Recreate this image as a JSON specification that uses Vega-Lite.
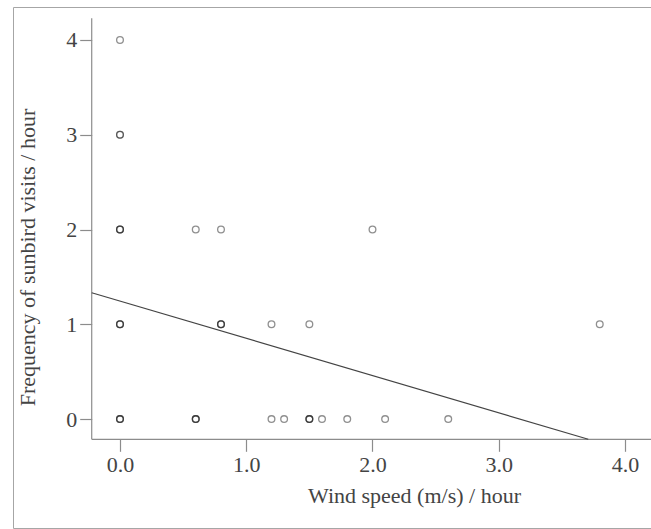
{
  "$schema": "https://vega.github.io/schema/vega-lite/v6.json",
  "width": 638,
  "height": 521,
  "autosize": {"type": "none"},
  "padding": {"left": 13, "top": 7, "right": 0, "bottom": 1},
  "background": "white",
  "config": {
    "view": {"stroke": "#a6a6a6", "strokeWidth": 1},
    "font": "Liberation Serif"
  },
  "layer": [
    {
      "data": {"values": [
        {"x": -0.224, "x2": -0.224, "y": -0.213, "y2": 4.23},
        {"x": -0.224, "x2": 4.21, "y": -0.213, "y2": -0.213}
      ]},
      "mark": {"type": "rule", "color": "#8c8c8c", "strokeWidth": 1.2},
      "encoding": {
        "x": {"field": "x", "type": "quantitative"},
        "x2": {"field": "x2"},
        "y": {"field": "y", "type": "quantitative"},
        "y2": {"field": "y2"}
      }
    },
    {
      "data": {"values": [
        {"x": -0.224, "y": 1.333},
        {"x": 3.709, "y": -0.213}
      ]},
      "mark": {"type": "line", "color": "#444444", "strokeWidth": 1.2},
      "encoding": {
        "x": {"field": "x", "type": "quantitative"},
        "y": {"field": "y", "type": "quantitative"}
      }
    },
    {
      "data": {"values": [
        {"x": 0, "y": 0}, {"x": 0, "y": 0}, {"x": 0, "y": 0},
        {"x": 0, "y": 1}, {"x": 0, "y": 1}, {"x": 0, "y": 1},
        {"x": 0, "y": 2}, {"x": 0, "y": 2}, {"x": 0, "y": 2},
        {"x": 0, "y": 3}, {"x": 0, "y": 3},
        {"x": 0, "y": 4},
        {"x": 0.6, "y": 0}, {"x": 0.6, "y": 0}, {"x": 0.6, "y": 0},
        {"x": 0.6, "y": 2},
        {"x": 0.8, "y": 1}, {"x": 0.8, "y": 1}, {"x": 0.8, "y": 1},
        {"x": 0.8, "y": 2},
        {"x": 1.2, "y": 0}, {"x": 1.2, "y": 1},
        {"x": 1.3, "y": 0},
        {"x": 1.5, "y": 0}, {"x": 1.5, "y": 0}, {"x": 1.5, "y": 0},
        {"x": 1.5, "y": 1},
        {"x": 1.6, "y": 0},
        {"x": 1.8, "y": 0},
        {"x": 2.0, "y": 2},
        {"x": 2.1, "y": 0},
        {"x": 2.6, "y": 0},
        {"x": 3.8, "y": 1}
      ]},
      "mark": {"type": "point", "shape": "circle", "filled": false, "size": 45, "strokeWidth": 1.3, "color": "#222222", "opacity": 0.5},
      "encoding": {
        "x": {
          "field": "x", "type": "quantitative",
          "scale": {"domain": [-0.8475, 4.206], "nice": false, "zero": false},
          "axis": {
            "title": "Wind speed (m/s) / hour",
            "values": [0, 1, 2, 3, 4],
            "format": ".1f",
            "offset": -88.7,
            "domain": false,
            "grid": false,
            "ticks": true,
            "tickColor": "#8c8c8c",
            "tickSize": 12,
            "tickWidth": 1.2,
            "labelFont": "Liberation Serif",
            "labelFontSize": 22,
            "labelColor": "#444444",
            "labelPadding": 3,
            "titleFont": "Liberation Serif",
            "titleFontSize": 22,
            "titleFontWeight": "normal",
            "titleColor": "#444444",
            "titlePadding": 10,
            "titleX": 401
          }
        },
        "y": {
          "field": "y", "type": "quantitative",
          "scale": {"domain": [-1.149, 4.348], "nice": false, "zero": false},
          "axis": {
            "title": "Frequency of sunbird visits / hour",
            "values": [0, 1, 2, 3, 4],
            "format": "d",
            "offset": -78.7,
            "domain": false,
            "grid": false,
            "ticks": true,
            "tickColor": "#8c8c8c",
            "tickSize": 12,
            "tickWidth": 1.2,
            "labelFont": "Liberation Serif",
            "labelFontSize": 22,
            "labelColor": "#444444",
            "labelPadding": 3,
            "titleFont": "Liberation Serif",
            "titleFontSize": 22,
            "titleFontWeight": "normal",
            "titleColor": "#444444",
            "titlePadding": 26,
            "titleY": 250
          }
        }
      }
    }
  ]
}
